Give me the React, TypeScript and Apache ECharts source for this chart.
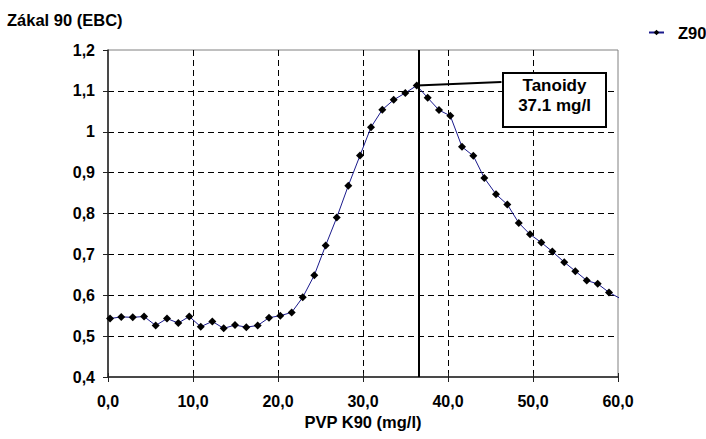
import React, { useEffect, useRef } from "react";
import * as echarts from "echarts";

const xValues = [
  0.24, 1.56, 2.91, 4.24, 5.61, 6.94, 8.27, 9.56, 10.91, 12.27, 13.61, 14.94,
  16.27, 17.61, 18.94, 20.27, 21.61, 22.91, 24.27, 25.61, 26.91, 28.27, 29.65,
  30.94, 32.27, 33.61, 34.98, 36.32, 37.61, 38.94, 40.27, 41.65, 42.98, 44.27,
  45.65, 46.98, 48.32, 49.65, 50.98, 52.27, 53.68, 54.98, 56.32, 57.61, 58.94,
  60.27,
];
const z90Values = [
  0.543, 0.547, 0.546, 0.548, 0.526, 0.543, 0.532, 0.548, 0.523, 0.536, 0.519,
  0.527, 0.522, 0.526, 0.545, 0.55, 0.558, 0.595, 0.649, 0.722, 0.79, 0.868,
  0.942, 1.011, 1.054, 1.078, 1.095, 1.113, 1.083, 1.053, 1.039, 0.963, 0.941,
  0.887, 0.847, 0.822, 0.777, 0.749, 0.729, 0.707, 0.681, 0.659, 0.636, 0.628,
  0.607, 0.592,
];
const seriesName = "Z90";
const yTitle = "Zákal 90 (EBC)";
const xTitle = "PVP K90 (mg/l)";
const annotationLines = ["Tanoidy", "37.1 mg/l"];
const markerX = 36.6; // vertical line position
const peakPoint = [36.32, 1.113];
const calloutAnchor = [46.29, 1.1215];

const FONT = 'Arial, "Liberation Sans", sans-serif';

export default function App() {
  const ref = useRef<HTMLDivElement>(null);
  useEffect(() => {
    if (!ref.current) return;
    const chart = echarts.init(ref.current, undefined, { renderer: "svg" });
    const fmt = (v: number) => String(Math.round(v * 10) / 10).replace(".", ",");
    chart.setOption({
      animation: false,
      textStyle: { fontFamily: FONT },
      title: {
        text: yTitle,
        left: 7,
        top: 11,
        padding: 0,
        textStyle: { fontFamily: FONT, fontSize: 16.5, fontWeight: "bold", color: "#000" },
      },
      legend: {
        left: 648,
        top: 24,
        padding: 0,
        itemWidth: 15,
        itemHeight: 7,
        data: [seriesName],
        textStyle: {
          fontFamily: FONT,
          fontSize: 16.5,
          fontWeight: "bold",
          color: "#000",
          padding: [0, 0, 0, 9],
        },
      },
      grid: {
        left: 108,
        right: 88,
        top: 50,
        bottom: 62,
        show: true,
        borderColor: "#808080",
        borderWidth: 1,
      },
      xAxis: [
        {
          type: "value",
          min: 0,
          max: 60,
          interval: 10,
          name: xTitle,
          nameLocation: "middle",
          nameGap: 36,
          nameTextStyle: { fontFamily: FONT, fontSize: 16.5, fontWeight: "bold", color: "#000" },
          axisLine: { show: true, lineStyle: { color: "#222", width: 1.5 } },
          axisTick: { show: true, length: 5, lineStyle: { color: "#222", width: 1 } },
          axisLabel: {
            margin: 16,
            formatter: (v: number) => v.toFixed(1).replace(".", ","),
            fontFamily: FONT,
            fontSize: 16,
            fontWeight: "bold",
            color: "#000",
          },
          splitLine: {
            show: true,
            showMinLine: false,
            showMaxLine: false,
            lineStyle: { color: "#000", width: 1, type: [6, 4] },
          },
        },
        {
          type: "value",
          min: 0,
          max: 60,
          interval: 10,
          position: "bottom",
          axisLine: { show: false },
          axisTick: { show: true, inside: true, length: 4, lineStyle: { color: "#222", width: 1 } },
          axisLabel: { show: false },
          splitLine: { show: false },
        },
      ],
      yAxis: {
        type: "value",
        min: 0.4,
        max: 1.2,
        interval: 0.1,
        axisLine: { show: true, lineStyle: { color: "#222", width: 1.5 } },
        axisTick: { show: true, length: 5, lineStyle: { color: "#222", width: 1 } },
        axisLabel: {
          margin: 13,
          formatter: fmt,
          fontFamily: FONT,
          fontSize: 16,
          fontWeight: "bold",
          color: "#000",
        },
        splitLine: {
          show: true,
          showMinLine: false,
          showMaxLine: false,
          lineStyle: { color: "#000", width: 1, type: [6, 4] },
        },
      },
      series: [
        {
          name: seriesName,
          type: "line",
          data: xValues.map((x, i) => [x, z90Values[i]]),
          symbol: "diamond",
          symbolSize: 8,
          clip: true,
          itemStyle: { color: "#000" },
          lineStyle: { color: "#1a1a8c", width: 1 },
          markLine: {
            silent: true,
            symbol: ["none", "none"],
            label: { show: false },
            lineStyle: { color: "#000", width: 2, type: "solid" },
            data: [
              { xAxis: markerX },
              [{ coord: peakPoint }, { coord: calloutAnchor }],
            ],
          },
        },
      ],
      graphic: [
        {
          type: "rect",
          shape: { x: 503, y: 73, width: 103, height: 54 },
          style: { fill: "#fff", stroke: "#000", lineWidth: 2 },
          z: 100,
        },
        {
          type: "text",
          x: 554.5,
          y: 85,
          z: 101,
          style: {
            text: annotationLines[0],
            fontFamily: FONT,
            fontSize: 17,
            fontWeight: "bold",
            fill: "#000",
            textAlign: "center",
            textVerticalAlign: "middle",
          },
        },
        {
          type: "text",
          x: 554.5,
          y: 105,
          z: 101,
          style: {
            text: annotationLines[1],
            fontFamily: FONT,
            fontSize: 17,
            fontWeight: "bold",
            fill: "#000",
            textAlign: "center",
            textVerticalAlign: "middle",
          },
        },
      ],
    });
    return () => chart.dispose();
  }, []);
  return (
    <div
      ref={ref}
      style={{ position: "fixed", left: 0, top: 0, width: 706, height: 439, background: "#fff" }}
    />
  );
}
